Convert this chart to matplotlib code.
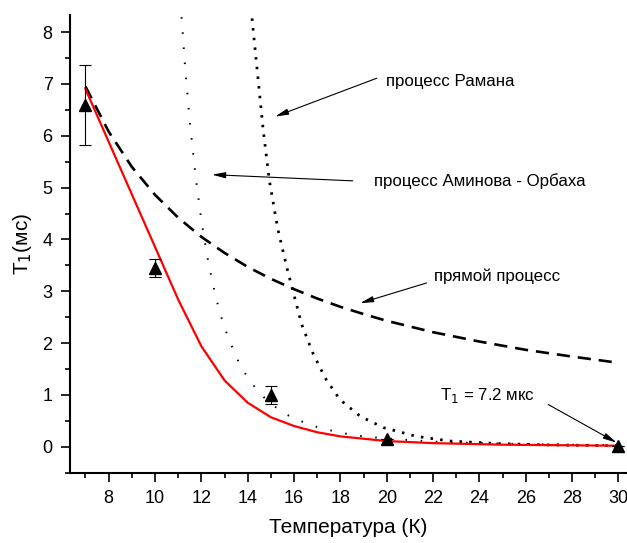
import matplotlib
matplotlib.use("Agg")
import matplotlib.pyplot as plt
from matplotlib.ticker import MultipleLocator

plt.rcParams['font.family'] = ['Liberation Sans', 'DejaVu Sans']

# ---------------------------
# data
# ---------------------------
# measured T1 points with error bars
t_meas = [7, 10, 15, 20, 30]
T1_meas = [6.6, 3.45, 1.0, 0.15, 0.02]
T1_err = [0.77, 0.17, 0.18, 0.0, 0.0]

# total fit (red)
t_fit = [7, 11, 12, 13, 14, 15, 16, 17, 18, 20, 22, 25, 30]
T1_fit = [6.9, 2.84, 1.94, 1.28, 0.85, 0.57, 0.40, 0.28, 0.20, 0.11, 0.07, 0.04, 0.02]

# direct process (dashed)
t_direct = [7, 8, 9, 10, 11, 12, 13, 14, 15, 16, 17, 18, 19, 20, 22, 24, 26, 28, 30]
T1_direct = [6.95, 6.08, 5.40, 4.86, 4.42, 4.05, 3.74, 3.47, 3.24, 3.04, 2.86,
             2.70, 2.56, 2.43, 2.21, 2.03, 1.87, 1.74, 1.62]

# Aminov - Orbach process (fine dotted)
t_orbach = [11.1, 11.3, 11.5, 11.75, 12.0, 12.25, 12.5, 12.75, 13.0, 13.5, 14.0,
            14.5, 15.0, 15.5, 16, 17, 18, 19, 20, 22, 24, 26, 28, 30]
T1_orbach = [8.58, 7.32, 6.28, 5.22, 4.37, 3.68, 3.13, 2.67, 2.30, 1.73, 1.33,
             1.04, 0.83, 0.67, 0.54, 0.38, 0.27, 0.20, 0.16, 0.10, 0.07, 0.05, 0.04, 0.03]

# Raman process (coarse dotted)
t_raman = [14.0, 14.2, 14.67, 14.93, 15.3, 15.71, 16.33, 16.8, 17.34, 17.98,
           18.85, 19.85, 21.29, 22.73, 24.9, 27, 30]
T1_raman = [9.3, 8.2, 6.11, 5.15, 4.2, 3.42, 2.36, 1.82, 1.33, 0.91,
            0.59, 0.37, 0.20, 0.11, 0.06, 0.035, 0.02]

# ---------------------------
# plot
# ---------------------------
fig = plt.figure(figsize=(6.27, 5.43), dpi=100)
ax = fig.add_axes([0.1116, 0.1295, 0.8884, 0.8429])

ax.plot(t_direct, T1_direct, color='black', lw=1.9, dashes=(5, 3))
ax.plot(t_orbach, T1_orbach, color='black', lw=1.4, dashes=(0.8, 7))
ax.plot(t_raman, T1_raman, color='black', lw=2.0, dashes=(0.9, 2.6))
ax.plot(t_fit, T1_fit, color='red', lw=1.6)
ax.errorbar(t_meas, T1_meas, yerr=T1_err, fmt='^', color='black', ms=9,
            elinewidth=0.8, capsize=4, capthick=0.8)

# annotations
fs = 12.2
arrow = dict(arrowstyle='-|>,head_length=0.8,head_width=0.18', color='black',
             lw=0.8, shrinkA=0, shrinkB=0)
ax.annotate('', xy=(15.18, 6.37), xytext=(19.57, 7.11), arrowprops=arrow)
ax.text(19.95, 7.05, 'процесс Рамана', fontsize=fs, va='center')
ax.annotate('', xy=(12.46, 5.25), xytext=(18.53, 5.13), arrowprops=arrow)
ax.text(19.45, 5.13, 'процесс Аминова - Орбаха', fontsize=fs, va='center')
ax.annotate('', xy=(18.85, 2.77), xytext=(21.72, 3.16), arrowprops=arrow)
ax.text(22.05, 3.28, 'прямой процесс', fontsize=fs, va='center')
ax.annotate('', xy=(29.92, 0.08), xytext=(26.97, 0.815), arrowprops=arrow)
ax.text(22.3, 0.98, 'T$_1$ = 7.2 мкс', fontsize=fs, va='center')

# axes formatting
ax.set_xlim(6.33, 30.37)
ax.set_ylim(-0.5, 8.33)
ax.set_xticks(range(8, 31, 2))
ax.set_yticks(range(0, 9))
ax.xaxis.set_minor_locator(MultipleLocator(1))
ax.yaxis.set_minor_locator(MultipleLocator(0.5))
ax.spines['top'].set_visible(False)
ax.spines['right'].set_visible(False)
ax.spines['left'].set_linewidth(1.5)
ax.spines['bottom'].set_linewidth(1.5)
ax.tick_params(which='major', direction='out', length=6.5, width=1.2, labelsize=13, pad=6)
ax.tick_params(which='minor', direction='out', length=3.5, width=1.2)
ax.set_xlabel('Температура (К)', fontsize=15, labelpad=8)
ax.set_ylabel('T$_1$(мс)', fontsize=15, labelpad=6)

fig.savefig('out.png', dpi=100)
